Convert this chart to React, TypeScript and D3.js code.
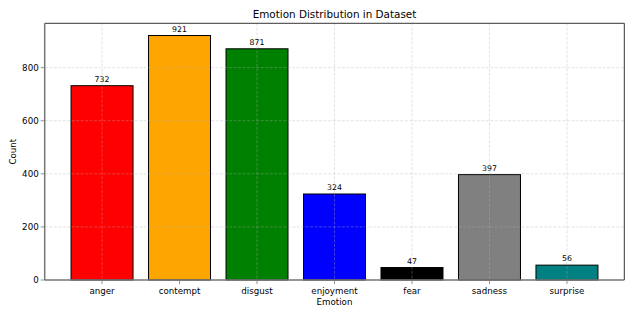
import * as d3 from "d3";
import React, { useRef, useEffect } from "react";

// emotion counts
const emotions = ["anger", "contempt", "disgust", "enjoyment", "fear", "sadness", "surprise"];
const counts = [732, 921, 871, 324, 47, 397, 56];
const barColors = ["red", "orange", "green", "blue", "black", "gray", "teal"];
const yTicks = [0, 200, 400, 600, 800];

const W = 634;
const H = 317;

function App() {
  const svgRef = useRef<SVGSVGElement>(null);

  useEffect(() => {
    const svg = d3.select(svgRef.current);
    svg.selectAll("*").remove();

    const left = 44.7, right = 624.3, top = 23.3, bottom = 280;
    const font = "DejaVu Sans, sans-serif";

    // matplotlib-like bar positions: width 0.8 with 5% margins
    const x = d3.scaleLinear().domain([-0.74, emotions.length - 1 + 0.74]).range([left, right]);
    const y = d3.scaleLinear().domain([0, d3.max(counts)! * 1.05]).range([bottom, top]);
    const bw = x(0.8) - x(0);

    const g = svg.append("g");

    // bars
    g.selectAll("rect.bar")
      .data(counts)
      .enter()
      .append("rect")
      .attr("class", "bar")
      .attr("x", (d, i) => x(i - 0.4))
      .attr("y", (d) => y(d))
      .attr("width", bw)
      .attr("height", (d) => bottom - y(d))
      .attr("fill", (d, i) => barColors[i])
      .attr("stroke", "black")
      .attr("stroke-width", 1);

    // grid on top of bars
    g.selectAll("line.gy")
      .data(yTicks)
      .enter()
      .append("line")
      .attr("x1", left).attr("x2", right)
      .attr("y1", (d) => y(d)).attr("y2", (d) => y(d))
      .attr("stroke", "#b0b0b0")
      .attr("stroke-opacity", 0.45)
      .attr("stroke-width", 0.8)
      .attr("stroke-dasharray", "3,1.5");
    g.selectAll("line.gx")
      .data(emotions)
      .enter()
      .append("line")
      .attr("x1", (d, i) => x(i)).attr("x2", (d, i) => x(i))
      .attr("y1", top).attr("y2", bottom)
      .attr("stroke", "#b0b0b0")
      .attr("stroke-opacity", 0.45)
      .attr("stroke-width", 0.8)
      .attr("stroke-dasharray", "3,1.5");

    // value labels
    g.selectAll("text.val")
      .data(counts)
      .enter()
      .append("text")
      .attr("x", (d, i) => x(i))
      .attr("y", (d) => y(d) - 4)
      .attr("text-anchor", "middle")
      .attr("font-family", font)
      .attr("font-size", 7.8)
      .text((d) => d);

    // frame: top/right black, left/bottom gray
    g.append("line").attr("x1", left).attr("x2", right).attr("y1", top).attr("y2", top)
      .attr("stroke", "black").attr("stroke-width", 0.8);
    g.append("line").attr("x1", right).attr("x2", right).attr("y1", top).attr("y2", bottom)
      .attr("stroke", "black").attr("stroke-width", 0.8);
    g.append("line").attr("x1", left).attr("x2", left).attr("y1", top).attr("y2", bottom)
      .attr("stroke", "#777").attr("stroke-width", 1.5);
    g.append("line").attr("x1", left).attr("x2", right).attr("y1", bottom).attr("y2", bottom)
      .attr("stroke", "#777").attr("stroke-width", 1.5);

    // y ticks
    const yt = g.selectAll("g.yt").data(yTicks).enter().append("g")
      .attr("transform", (d) => `translate(${left},${y(d)})`);
    yt.append("line").attr("x1", -4).attr("x2", 0).attr("stroke", "#777").attr("stroke-width", 0.8);
    yt.append("text").attr("x", -6).attr("dy", "0.35em").attr("text-anchor", "end")
      .attr("font-family", font).attr("font-size", 8.7).text((d) => d);

    // x ticks
    const xt = g.selectAll("g.xt").data(emotions).enter().append("g")
      .attr("transform", (d, i) => `translate(${x(i)},${bottom})`);
    xt.append("line").attr("y1", 0).attr("y2", 4).attr("stroke", "#777").attr("stroke-width", 0.8);
    xt.append("text").attr("y", 14).attr("text-anchor", "middle")
      .attr("font-family", font).attr("font-size", 8.7).text((d) => d);

    // axis labels and title
    g.append("text").attr("x", (left + right) / 2).attr("y", 305).attr("text-anchor", "middle")
      .attr("font-family", font).attr("font-size", 8.7).text("Emotion");
    g.append("text").attr("transform", `translate(16,${(top + bottom) / 2}) rotate(-90)`)
      .attr("text-anchor", "middle").attr("font-family", font).attr("font-size", 8.7).text("Count");
    g.append("text").attr("x", (left + right) / 2).attr("y", 18).attr("text-anchor", "middle")
      .attr("font-family", font).attr("font-size", 10.4).text("Emotion Distribution in Dataset");
  });

  return (
    <div style={{ position: "fixed", left: 0, top: 0 }}>
      <svg ref={svgRef} width={W} height={H} style={{ display: "block", background: "white" }} />
    </div>
  );
}

export default App;
